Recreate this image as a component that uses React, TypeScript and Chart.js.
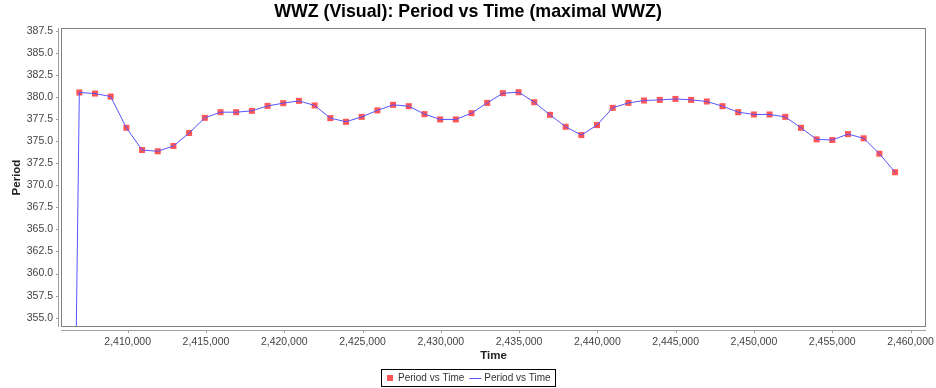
import React, { useEffect, useRef } from "react";
import { Chart, registerables } from "chart.js";

Chart.register(...registerables);

const TITLE = "WWZ (Visual): Period vs Time (maximal WWZ)";
const X_LABEL = "Time";
const Y_LABEL = "Period";
const SERIES_NAME = "Period vs Time";

const TIMES = [
  2405908, 2406910, 2407912, 2408914, 2409916, 2410918, 2411920, 2412922, 2413924,
  2414926, 2415928, 2416930, 2417932, 2418934, 2419936, 2420938, 2421940, 2422942,
  2423944, 2424946, 2425948, 2426950, 2427952, 2428954, 2429956, 2430958, 2431960,
  2432962, 2433964, 2434966, 2435968, 2436970, 2437972, 2438974, 2439976, 2440978,
  2441980, 2442982, 2443984, 2444986, 2445988, 2446990, 2447992, 2448994, 2449996,
  2450998, 2452000, 2453002, 2454004, 2455006, 2456008, 2457010, 2458012, 2459014,
];

const PERIODS = [
  242.0, 380.5, 380.38, 380.04, 376.5, 373.99, 373.84, 374.44, 375.91,
  377.63, 378.27, 378.27, 378.42, 378.98, 379.29, 379.55, 379.03, 377.6,
  377.18, 377.74, 378.47, 379.1, 378.95, 378.05, 377.45, 377.45, 378.16,
  379.32, 380.42, 380.53, 379.4, 377.97, 376.62, 375.68, 376.81, 378.76,
  379.32, 379.59, 379.66, 379.77, 379.66, 379.48, 378.95, 378.27, 378.01,
  378.01, 377.74, 376.5, 375.19, 375.12, 375.79, 375.31, 373.57, 371.47,
];

const X_TICKS = [2410000, 2415000, 2420000, 2425000, 2430000, 2435000, 2440000, 2445000, 2450000, 2455000, 2460000];
const Y_TICKS = [355.0, 357.5, 360.0, 362.5, 365.0, 367.5, 370.0, 372.5, 375.0, 377.5, 380.0, 382.5, 385.0, 387.5];

const X_MIN = 2405740;
const X_MAX = 2460990;
const Y_MIN = 353.95;
const Y_MAX = 387.8;

const RED = "#FF5555";
const BLUE = "#5555FF";

const FONT = "'Liberation Sans', Arial, sans-serif";

const decorPlugin = {
  id: "decor",
  afterDraw(chart: any) {
    const ctx = chart.ctx as CanvasRenderingContext2D;
    const a = chart.chartArea;
    const xs = chart.scales.x;
    const ys = chart.scales.y;
    const W = chart.width;
    ctx.save();

    // plot outline
    ctx.strokeStyle = "#808080";
    ctx.lineWidth = 1;
    ctx.strokeRect(Math.round(a.left) + 0.5, Math.round(a.top) + 0.5, Math.round(a.right - a.left) - 1, Math.round(a.bottom - a.top) - 1);

    // axis lines (offset from plot)
    ctx.strokeStyle = "#a0a0a0";
    const yAxisX = Math.round(a.left) - 3 + 0.5;
    ctx.beginPath();
    ctx.moveTo(yAxisX, Math.round(a.top));
    ctx.lineTo(yAxisX, Math.round(a.bottom));
    ctx.stroke();
    const xAxisY = Math.round(a.bottom) + 3 + 0.5;
    ctx.beginPath();
    ctx.moveTo(Math.round(a.left), xAxisY);
    ctx.lineTo(Math.round(a.right), xAxisY);
    ctx.stroke();

    // tick marks
    ctx.beginPath();
    for (const t of ys.ticks) {
      const py = Math.round(ys.getPixelForValue(t.value)) + 0.5;
      ctx.moveTo(yAxisX - 2.5, py);
      ctx.lineTo(yAxisX, py);
    }
    for (const t of xs.ticks) {
      const px = Math.round(xs.getPixelForValue(t.value)) + 0.5;
      ctx.moveTo(px, xAxisY);
      ctx.lineTo(px, xAxisY + 2.5);
    }
    ctx.stroke();

    // title
    ctx.fillStyle = "#000000";
    ctx.font = `bold 17.8px ${FONT}`;
    ctx.textAlign = "center";
    ctx.textBaseline = "middle";
    ctx.fillText(TITLE, W / 2, 12);

    // axis titles
    ctx.fillStyle = "#222222";
    ctx.font = `bold 11.5px ${FONT}`;
    ctx.fillText(X_LABEL, (a.left + a.right) / 2, 356);
    ctx.save();
    ctx.translate(17, (a.top + a.bottom) / 2);
    ctx.rotate(-Math.PI / 2);
    ctx.fillText(Y_LABEL, 0, 0);
    ctx.restore();

    // legend
    ctx.font = `10px ${FONT}`;
    const tw = ctx.measureText(SERIES_NAME).width;
    const boxW = 6 + 6 + 5 + tw + 5 + 12 + 3 + tw + 4;
    const left = Math.round(W / 2 - boxW / 2);
    const top = 370;
    const h = 17;
    ctx.strokeStyle = "#000000";
    ctx.strokeRect(left + 0.5, top - 0.5, Math.round(boxW), h);
    const cy = top + 8;
    let x = left + 6;
    ctx.fillStyle = RED;
    ctx.fillRect(x, cy - 3, 6, 6);
    x += 6 + 5;
    ctx.fillStyle = "#333333";
    ctx.textAlign = "left";
    ctx.textBaseline = "middle";
    ctx.fillText(SERIES_NAME, x, cy + 0.5);
    x += tw + 5;
    ctx.strokeStyle = BLUE;
    ctx.beginPath();
    ctx.moveTo(x, cy + 0.5);
    ctx.lineTo(x + 12, cy + 0.5);
    ctx.stroke();
    x += 12 + 3;
    ctx.fillText(SERIES_NAME, x, cy + 0.5);

    ctx.restore();
  },
};

export default function App() {
  const ref = useRef<HTMLCanvasElement | null>(null);

  useEffect(() => {
    if (!ref.current) return;
    const points = TIMES.map((t, i) => ({ x: t, y: PERIODS[i] }));
    const chart = new Chart(ref.current, {
      type: "scatter",
      data: {
        datasets: [
          {
            label: SERIES_NAME,
            data: points,
            showLine: true,
            borderColor: BLUE,
            borderWidth: 1,
            pointRadius: 0,
            pointHoverRadius: 0,
            order: 0,
          },
          {
            label: SERIES_NAME,
            data: points,
            showLine: false,
            backgroundColor: RED,
            borderWidth: 0,
            pointStyle: "rect",
            pointRadius: 4.25,
            order: 1,
          },
        ],
      },
      options: {
        responsive: false,
        animation: false,
        events: [],
        layout: { padding: { top: 28, right: 10, bottom: 0, left: 0 } },
        plugins: {
          legend: { display: false },
          title: { display: false },
          tooltip: { enabled: false },
        },
        scales: {
          x: {
            type: "linear",
            min: X_MIN,
            max: X_MAX,
            grid: { display: false, drawTicks: false, tickLength: 0 },
            border: { display: false },
            afterFit: (s: any) => {
              s.height = 61;
              s.paddingLeft = 0;
              s.paddingRight = 0;
            },
            afterBuildTicks: (s: any) => {
              s.ticks = X_TICKS.map((v) => ({ value: v }));
            },
            ticks: {
              maxRotation: 0,
              minRotation: 0,
              autoSkip: false,
              padding: 9,
              color: "#444444",
              font: { family: FONT, size: 10.5 },
              callback: (v: any) => Number(v).toLocaleString("en-US"),
            },
          },
          y: {
            type: "linear",
            min: Y_MIN,
            max: Y_MAX,
            grid: { display: false, drawTicks: false, tickLength: 0 },
            border: { display: false },
            afterFit: (s: any) => {
              s.width = 61;
              s.paddingTop = 0;
              s.paddingBottom = 0;
            },
            afterBuildTicks: (s: any) => {
              s.ticks = Y_TICKS.map((v) => ({ value: v }));
            },
            ticks: {
              autoSkip: false,
              padding: 8,
              color: "#444444",
              font: { family: FONT, size: 10.5 },
              callback: (v: any) => Number(v).toFixed(1),
            },
          },
        },
      },
      plugins: [decorPlugin],
    });
    return () => chart.destroy();
  }, []);

  return (
    <div style={{ position: "absolute", left: 0, top: 0, width: 936, height: 388, background: "#ffffff" }}>
      <canvas ref={ref} width={936} height={388} style={{ display: "block", width: 936, height: 388 }} />
    </div>
  );
}
